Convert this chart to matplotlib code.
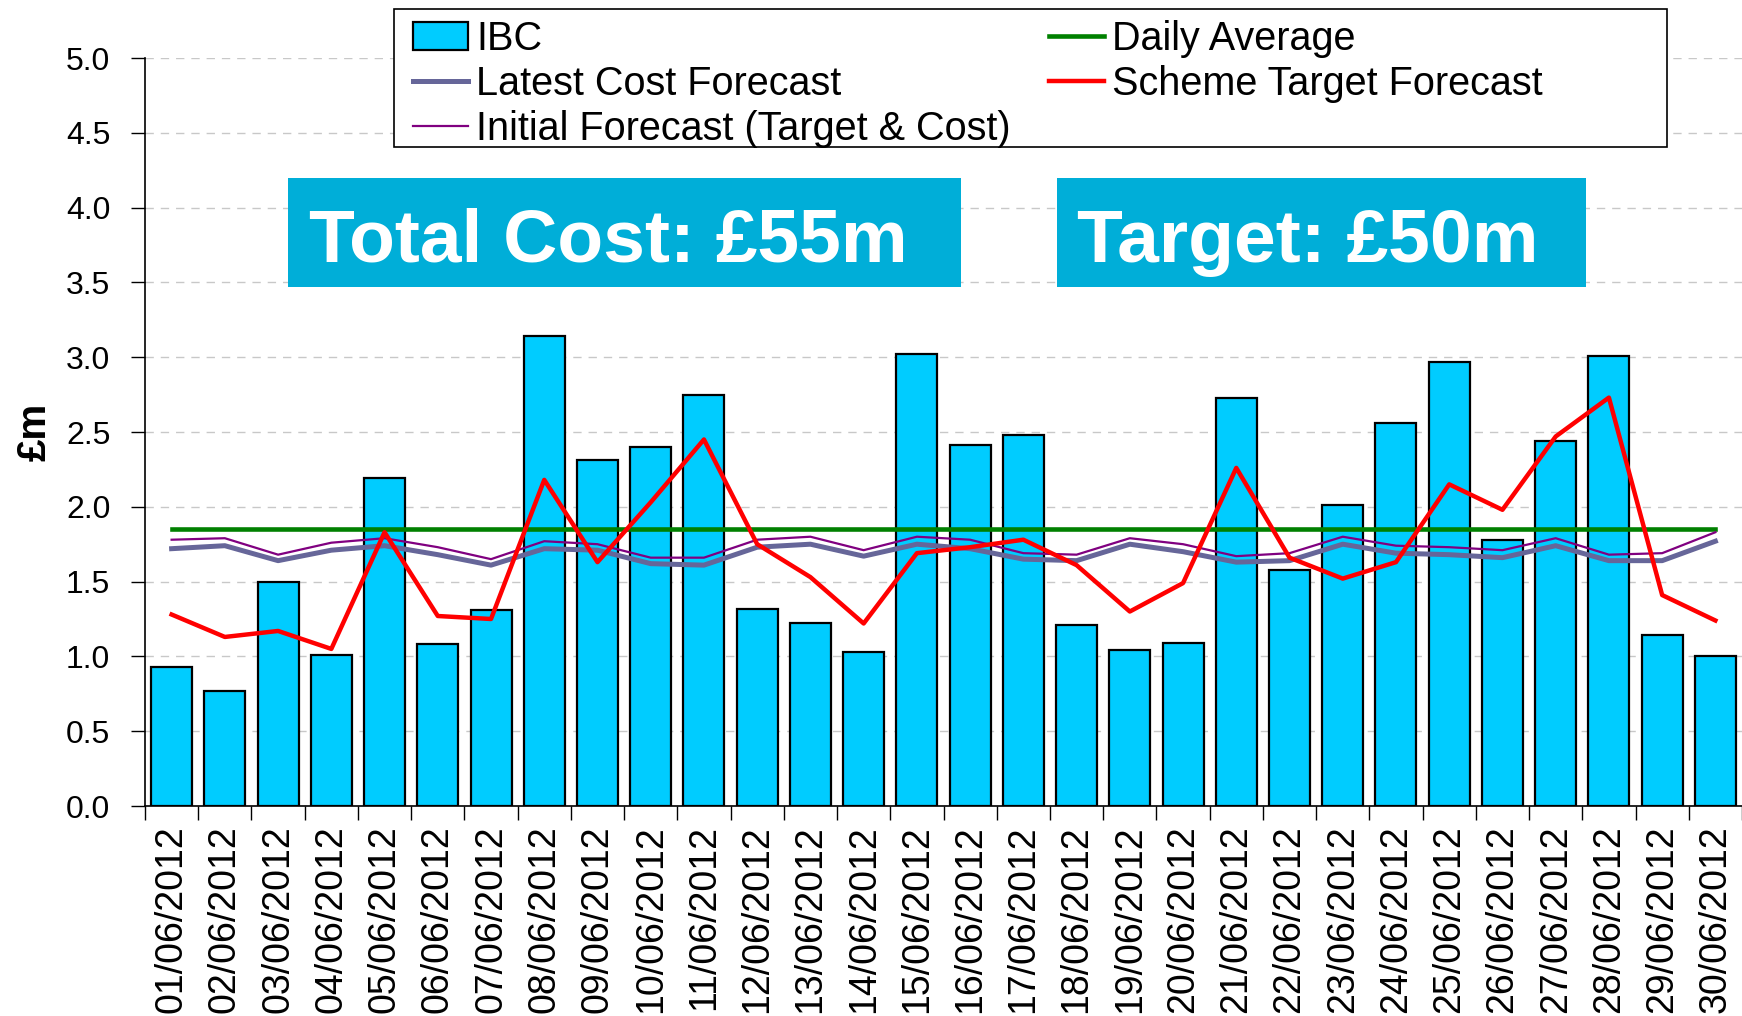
import matplotlib
matplotlib.use("Agg")
import matplotlib.pyplot as plt
from matplotlib.patches import Rectangle
from matplotlib.lines import Line2D
import numpy as np

plt.rcParams['font.family'] = ['Liberation Sans', 'DejaVu Sans']

dates = [f"{d:02d}/06/2012" for d in range(1, 31)]
ibc = [0.93, 0.77, 1.50, 1.01, 2.19, 1.08, 1.31, 3.14, 2.31, 2.40,
       2.75, 1.32, 1.22, 1.03, 3.02, 2.41, 2.48, 1.21, 1.04, 1.09,
       2.73, 1.58, 2.01, 2.56, 2.97, 1.78, 2.44, 3.01, 1.14, 1.00]
latest_cost = [1.72, 1.74, 1.64, 1.71, 1.74, 1.68, 1.61, 1.72, 1.71, 1.62,
               1.61, 1.73, 1.75, 1.67, 1.75, 1.72, 1.65, 1.64, 1.75, 1.70,
               1.63, 1.64, 1.75, 1.69, 1.68, 1.66, 1.74, 1.64, 1.64, 1.77]
initial_forecast = [1.78, 1.79, 1.68, 1.76, 1.79, 1.73, 1.65, 1.77, 1.75, 1.66,
                    1.66, 1.78, 1.80, 1.71, 1.80, 1.78, 1.69, 1.68, 1.79, 1.75,
                    1.67, 1.69, 1.80, 1.74, 1.73, 1.71, 1.79, 1.68, 1.69, 1.83]
scheme_target = [1.28, 1.13, 1.17, 1.05, 1.83, 1.27, 1.25, 2.18, 1.63, 2.03,
                 2.45, 1.75, 1.53, 1.22, 1.69, 1.73, 1.78, 1.61, 1.30, 1.49,
                 2.26, 1.66, 1.52, 1.63, 2.15, 1.98, 2.47, 2.73, 1.41, 1.24]
daily_average = [1.85] * 30
yticks = [0.0, 0.5, 1.0, 1.5, 2.0, 2.5, 3.0, 3.5, 4.0, 4.5, 5.0]

W, H = 1742, 1016
fig = plt.figure(figsize=(W / 100, H / 100), dpi=100)
ax = fig.add_axes([145 / W, 1 - 806 / H, 1 - 145 / W, (806 - 58) / H])

x = np.arange(len(dates))
ax.bar(x, ibc, width=0.77, color='#00CCFF', edgecolor='black', linewidth=1.6, zorder=2)
ax.plot(x, daily_average, color='#008000', lw=3.3, zorder=3)
ax.plot(x, latest_cost, color='#666699', lw=3.6, zorder=3)
ax.plot(x, initial_forecast, color='#800080', lw=1.6, zorder=3)
ax.plot(x, scheme_target, color='#FF0000', lw=3.2, zorder=4)

ax.set_xlim(-0.5, len(dates) - 0.5)
ax.set_ylim(0, 5)
ax.set_yticks(yticks)
ax.set_yticklabels([f"{v:.1f}" for v in yticks], fontsize=23)
ax.set_xticks(x)
ax.set_xticklabels(dates, rotation=90, fontsize=27)
ax.set_xticks(np.arange(-0.5, len(dates), 1.0), minor=True)
ax.tick_params(axis='x', which='major', length=0, pad=14)
ax.tick_params(axis='x', which='minor', length=10, width=1, direction='out')
ax.tick_params(axis='y', length=10, width=1, direction='out', pad=15)
ax.yaxis.grid(True, color='#C8C8C8', linestyle=(0, (6, 5)), linewidth=1)
ax.set_axisbelow(True)
for s in ['top', 'right']:
    ax.spines[s].set_visible(False)
for s in ['left', 'bottom']:
    ax.spines[s].set_linewidth(1.2)
ax.set_ylabel('£m', fontsize=29, fontweight='bold', labelpad=9)

def figrect(x0, y0, x1, y1, **kw):
    r = Rectangle((x0 / W, 1 - y1 / H), (x1 - x0) / W, (y1 - y0) / H,
                  transform=fig.transFigure, **kw)
    fig.patches.append(r)

# legend frame
figrect(394, 9, 1667, 147, facecolor='white', edgecolor='black', linewidth=1.2, zorder=1)
handles = [
    Rectangle((0, 0), 1, 1, facecolor='#00CCFF', edgecolor='black', linewidth=1.6),
    Line2D([], [], color='#666699', lw=3.6),
    Line2D([], [], color='#800080', lw=1.6),
    Line2D([], [], color='#008000', lw=3.3),
    Line2D([], [], color='#FF0000', lw=3.2),
]
labels = ['IBC', 'Latest Cost Forecast', 'Initial Forecast (Target & Cost)',
          'Daily Average', 'Scheme Target Forecast']
leg = fig.legend(handles, labels, loc='upper left', bbox_to_anchor=(413 / W, 1 - 19.5 / H),
                 ncol=2, frameon=False, fontsize=28.5, borderpad=0, borderaxespad=0,
                 handlelength=1.4, handletextpad=0.2, columnspacing=0.95,
                 labelspacing=0.18)

# highlight boxes
figrect(288, 178, 961, 287, facecolor='#00AED8', edgecolor='none', zorder=1)
figrect(1057, 178, 1586, 287, facecolor='#00AED8', edgecolor='none', zorder=1)
fig.text(309 / W, 1 - 262 / H, 'Total Cost: £55m', color='white', fontsize=54,
         fontweight='bold', va='baseline', ha='left', zorder=3)
fig.text(1077 / W, 1 - 262 / H, 'Target: £50m', color='white', fontsize=54,
         fontweight='bold', va='baseline', ha='left', zorder=3)

fig.savefig('out.png', dpi=100)
